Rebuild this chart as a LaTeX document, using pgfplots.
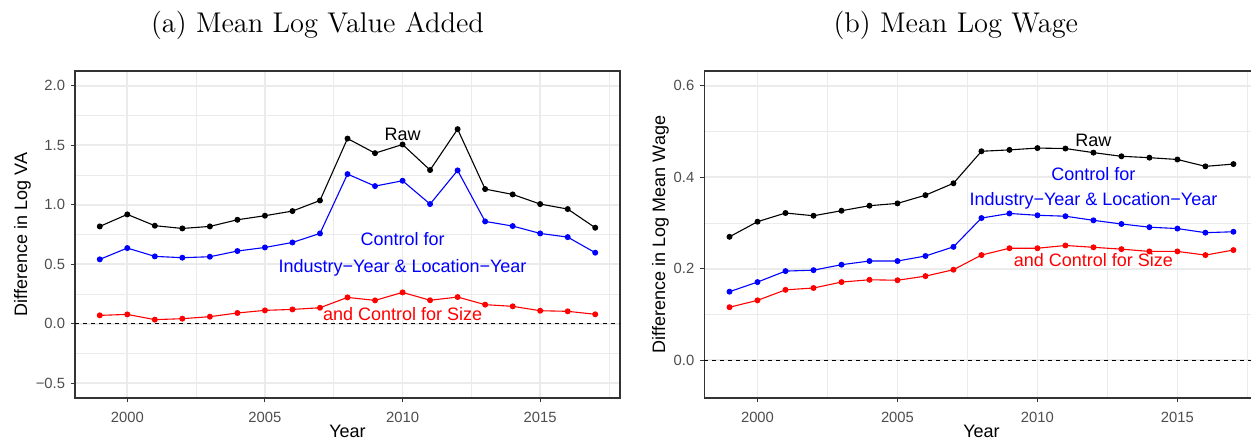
\documentclass[border=0pt]{standalone}
\usepackage{fontspec}
\setsansfont{Liberation Sans}
\usepackage{pgfplots}
\pgfplotsset{compat=1.18}

\definecolor{gridgrey}{HTML}{EBEBEB}
\definecolor{framegrey}{HTML}{333333}
\definecolor{ticktext}{HTML}{4D4D4D}

\pgfplotstableread{
year  raw    ctrl   size
1999  0.818  0.541  0.070
2000  0.919  0.636  0.078
2001  0.824  0.566  0.034
2002  0.801  0.555  0.042
2003  0.818  0.563  0.059
2004  0.874  0.611  0.090
2005  0.908  0.641  0.112
2006  0.947  0.683  0.120
2007  1.036  0.759  0.134
2008  1.557  1.258  0.221
2009  1.434  1.157  0.196
2010  1.507  1.202  0.263
2011  1.292  1.006  0.197
2012  1.636  1.289  0.224
2013  1.132  0.860  0.160
2014  1.087  0.821  0.146
2015  1.006  0.759  0.109
2016  0.964  0.728  0.104
2017  0.807  0.597  0.079
}\vatable

\pgfplotstableread{
year  raw    ctrl   size
1999  0.270  0.150  0.116
2000  0.303  0.171  0.131
2001  0.322  0.195  0.154
2002  0.316  0.197  0.158
2003  0.327  0.209  0.171
2004  0.338  0.217  0.176
2005  0.343  0.217  0.175
2006  0.361  0.228  0.184
2007  0.387  0.248  0.198
2008  0.457  0.311  0.230
2009  0.460  0.321  0.245
2010  0.464  0.317  0.245
2011  0.463  0.315  0.251
2012  0.454  0.306  0.247
2013  0.446  0.298  0.243
2014  0.443  0.291  0.238
2015  0.439  0.288  0.238
2016  0.424  0.279  0.230
2017  0.429  0.281  0.241
}\wagetable

\tikzset{
  note/.style={anchor=base, text=#1, font=\sffamily\fontsize{9}{10}\selectfont},
}
\pgfplotsset{
  ggpanel/.style={
    scale only axis,
    height=163.5pt,
    anchor=south west,
    xmin=1998.1, xmax=2017.9,
    xtick={2000,2005,2010,2015},
    xticklabels={2000,2005,2010,2015},
    minor xtick={2002.5,2007.5,2012.5,2017.5},
    grid=both,
    major grid style={gridgrey, line width=0.85pt},
    minor grid style={gridgrey, line width=0.45pt},
    axis line style={framegrey, line width=0.6pt},
    tick align=outside,
    major tick length=2pt,
    minor tick length=0pt,
    tick style={framegrey, line width=0.5pt},
    xtick pos=bottom, ytick pos=left,
    ticklabel style={font=\sffamily\fontsize{7.4}{8}\selectfont, text=ticktext},
    xticklabel style={anchor=base, yshift=-10pt, inner sep=0pt},
    yticklabel style={anchor=east, xshift=-2.8pt, inner sep=0pt},
    every axis x label/.style={at={(axis description cs:0.5,-0.122)}, anchor=base,
      font=\sffamily\fontsize{9}{10}\selectfont},
    xlabel={Year},
  },
  gglabel/.style={every axis y label/.style={at={(axis description cs:#1,0.5)},
      rotate=90, anchor=center, font=\sffamily\fontsize{9}{10}\selectfont}},
  series/.style={#1, line width=0.55pt, mark=*, mark size=1.2pt},
}

\begin{document}
\begin{tikzpicture}

% (a) value added
\begin{axis}[ggpanel,
  at={(37.5pt,21pt)}, width=272.5pt,
  ymin=-0.625, ymax=2.125,
  ytick={-0.5,0,0.5,1,1.5,2},
  yticklabels={−0.5,0.0,0.5,1.0,1.5,2.0},
  minor ytick={-0.25,0.25,0.75,1.25,1.75},
  gglabel=-0.0963,
  ylabel={Difference in Log VA},
]
\addplot[black, line width=0.5pt, dash pattern=on 2pt off 2pt] coordinates {(1998.1,0) (2017.9,0)};
\addplot[series=black] table[x=year, y=raw] {\vatable};
\addplot[series=blue] table[x=year, y=ctrl] {\vatable};
\addplot[series=red] table[x=year, y=size] {\vatable};
\node[note=black] at (axis cs:2010,1.544) {Raw};
\node[note=blue] at (axis cs:2010,0.655) {Control for};
\node[note=blue] at (axis cs:2010,0.432) {Industry−Year \& Location−Year};
\node[note=red] at (axis cs:2010,0.031) {and Control for Size};
\end{axis}

% (b) wage
\begin{axis}[ggpanel,
  at={(352.15pt,21pt)}, width=277.15pt,
  ymin=-0.0825, ymax=0.6325,
  ytick={0,0.2,0.4,0.6},
  yticklabels={0.0,0.2,0.4,0.6},
  minor ytick={0.1,0.3,0.5},
  gglabel=-0.079,
  ylabel={Difference in Log Mean Wage},
]
\addplot[black, line width=0.5pt, dash pattern=on 2pt off 2pt] coordinates {(1998.1,0) (2017.9,0)};
\addplot[series=black] table[x=year, y=raw] {\wagetable};
\addplot[series=blue] table[x=year, y=ctrl] {\wagetable};
\addplot[series=red] table[x=year, y=size] {\wagetable};
\node[note=black] at (axis cs:2012,0.4666) {Raw};
\node[note=blue] at (axis cs:2012,0.394) {Control for};
\node[note=blue] at (axis cs:2012,0.3375) {Industry−Year \& Location−Year};
\node[note=red] at (axis cs:2012,0.206) {and Control for Size};
\end{axis}

\node[anchor=base, font=\fontsize{14.25}{17}\selectfont] at (158.75pt,203.5pt) {(a) Mean Log Value Added};
\node[anchor=base, font=\fontsize{14.25}{17}\selectfont] at (477.9pt,203.5pt) {(b) Mean Log Wage};

\pgfresetboundingbox
\path[use as bounding box] (0,0) rectangle (625.5pt,220pt);
\end{tikzpicture}
\end{document}
